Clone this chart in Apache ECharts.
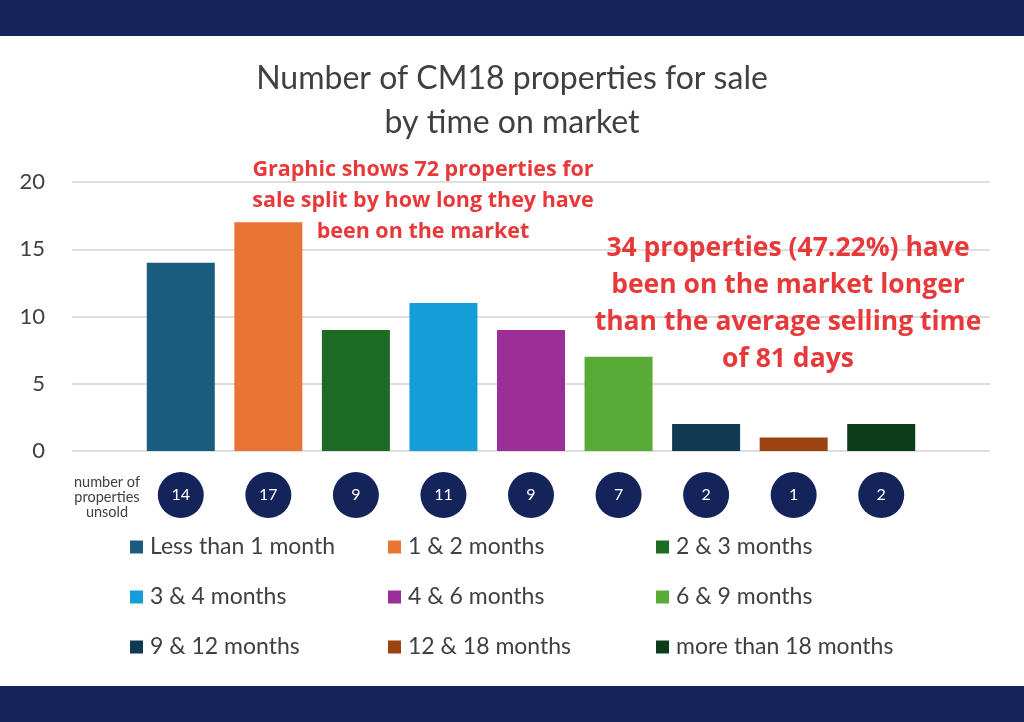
<!DOCTYPE html>
<html><head><meta charset="utf-8">
<script src="https://cdn.jsdelivr.net/npm/echarts@6/dist/echarts.min.js"></script>
<style>html,body{margin:0;padding:0;background:#fff}#c{width:1024px;height:722px}</style>
</head><body><div id="c"></div>
<script>
const categories = ['Less than 1 month','1 & 2 months','2 & 3 months','3 & 4 months','4 & 6 months','6 & 9 months','9 & 12 months','12 & 18 months','more than 18 months'];
const values = [14, 17, 9, 11, 9, 7, 2, 1, 2];
const colors = ['#1a5c7f','#e97535','#1c6a24','#159dd8','#9b2f97','#57ab36','#0f3a52','#9b4412','#0c3c18'];
const yTicks = [0, 5, 10, 15, 20];
const legendColumns = [[0,3,6],[1,4,7],[2,5,8]];
const legendLeft = [130, 388, 656];

const chart = echarts.init(document.getElementById('c'));
const series = categories.map((name, i) => ({
  name: name,
  type: 'bar',
  xAxisIndex: 0, yAxisIndex: 0,
  barWidth: 68,
  barGap: '-100%',
  itemStyle: { color: colors[i] },
  data: values.map((v, j) => j === i ? v : '-')
}));
series.push({ type: 'bar', xAxisIndex: 1, yAxisIndex: 1, data: [], silent: true });

const legends = legendColumns.map((col, k) => ({
  orient: 'vertical',
  left: legendLeft[k], top: 535, padding: 0,
  icon: 'rect', itemWidth: 13, itemHeight: 13, itemGap: 26,
  selectedMode: false,
  data: col.map(i => categories[i]),
  textStyle: { fontFamily: 'Lato', fontSize: 23, color: '#404040', lineHeight: 24, padding: [0,0,0,2] }
}));

chart.setOption({
  animation: false,
  title: {
    text: 'Number of CM18 properties for sale\nby time on market',
    left: 'center', top: 52,
    textStyle: { fontFamily: 'Lato', fontWeight: 'normal', fontSize: 32, lineHeight: 44, color: '#404040' }
  },
  legend: legends,
  grid: [
    { left: 137, right: 1024 - 925, top: 182, height: 269 },
    { left: 72, right: 1024 - 990, top: 182, height: 269 }
  ],
  xAxis: [
    { type: 'category', gridIndex: 0, data: values.map(String),
      axisLine: { show: false }, axisTick: { show: false },
      axisLabel: {
        margin: 21,
        formatter: v => '{c|' + v + '}',
        rich: { c: { backgroundColor: '#14245a', borderRadius: 23, width: 46, height: 46, lineHeight: 46, align: 'center', color: '#fff', fontSize: 16, fontFamily: 'Lato' } }
      } },
    { type: 'category', gridIndex: 1, data: [], show: false }
  ],
  yAxis: [
    { type: 'value', gridIndex: 0, min: 0, max: 20, interval: 5, show: false, splitLine: { show: false } },
    { type: 'value', gridIndex: 1, min: yTicks[0], max: yTicks[yTicks.length - 1], interval: 5,
      axisLine: { show: false }, axisTick: { show: false },
      axisLabel: { margin: 27, fontFamily: 'Lato', fontSize: 22, color: '#404040' },
      splitLine: { lineStyle: { color: '#d3d3d3', width: 1.5 } } }
  ],
  series: series,
  graphic: [
    { type: 'rect', shape: { x: 0, y: 0, width: 1024, height: 36 }, style: { fill: '#14245a' }, z: 10 },
    { type: 'rect', shape: { x: 0, y: 686, width: 1024, height: 36 }, style: { fill: '#14245a' }, z: 10 },
    { type: 'text', x: 107, y: 497, style: { text: 'number of\nproperties\nunsold', font: '14.5px Lato', fill: '#404040', align: 'center', verticalAlign: 'middle', lineHeight: 15 } },
    { type: 'text', x: 423, y: 201, z: 20, style: { text: 'Graphic shows 72 properties for\nsale split by how long they have\nbeen on the market', font: 'bold 21.5px "Open Sans"', fill: '#e8393a', align: 'center', verticalAlign: 'middle', lineHeight: 31 } },
    { type: 'text', x: 788, y: 304, z: 20, style: { text: '34 properties (47.22%) have\nbeen on the market longer\nthan the average selling time\nof 81 days', font: 'bold 26.5px "Open Sans"', fill: '#e8393a', align: 'center', verticalAlign: 'middle', lineHeight: 37 } }
  ]
});
</script></body></html>
